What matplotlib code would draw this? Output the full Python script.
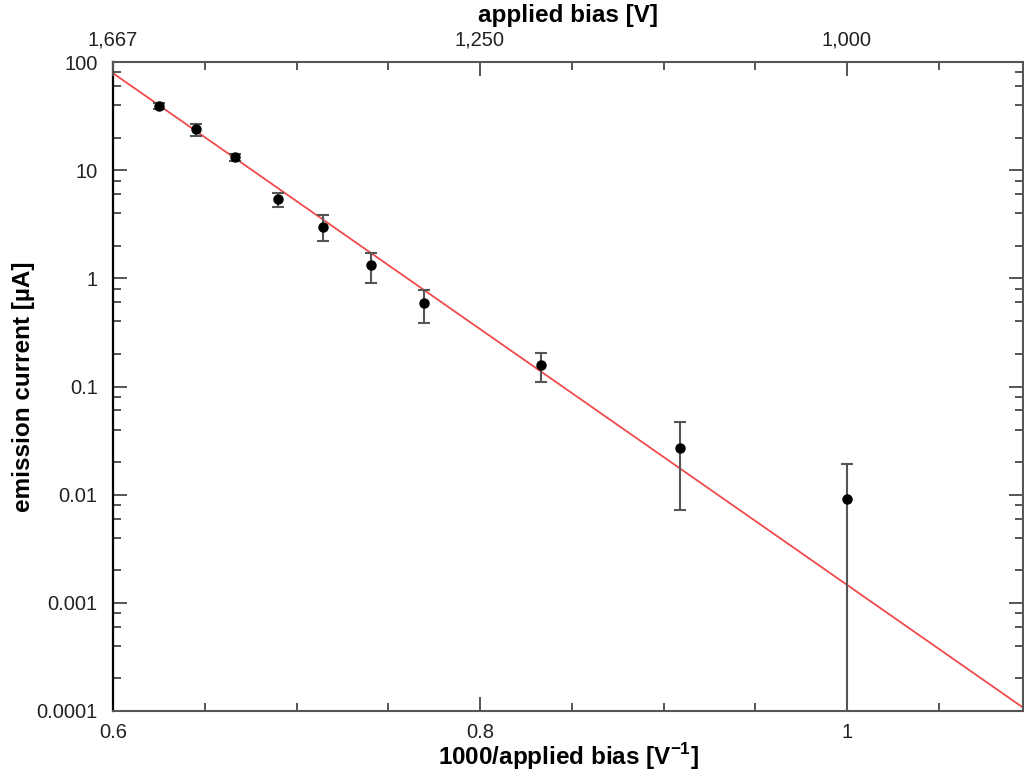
import numpy as np
import matplotlib
matplotlib.use('Agg')
import matplotlib.pyplot as plt
from matplotlib.ticker import FixedLocator, LogLocator, NullFormatter, FixedFormatter

plt.rcParams['font.family'] = ['Liberation Sans', 'DejaVu Sans']

# measured emission current vs applied bias
bias = np.array([1600, 1550, 1500, 1450, 1400, 1350, 1300, 1200, 1100, 1000])
current = np.array([39.2, 24.2, 13.2, 5.38, 3.01, 1.33, 0.589, 0.158, 0.0272, 0.00914])
current_lo = np.array([36.6, 20.8, 12.1, 4.54, 2.22, 0.912, 0.390, 0.109, 0.00724, 0.00005])
current_hi = np.array([41.5, 26.7, 14.1, 6.19, 3.83, 1.71, 0.782, 0.206, 0.0474, 0.0191])

# Fowler-Nordheim style fit, end points
fit_x = np.array([0.6, 1.1])
fit_y = np.array([78.8, 9.63e-5])

bottom_ticks = [0.6, 0.8, 1.0]
bottom_ticklabels = ['0.6', '0.8', '1']
top_ticklabels = ['1,667', '1,250', '1,000']   # 1000 / bottom_ticks

inv = 1000.0 / bias
yerr = np.vstack([current - current_lo, current_hi - current])

fig = plt.figure(figsize=(10.24, 7.8), dpi=100)
ax = fig.add_axes([113 / 1024, 1 - 711 / 780, 910 / 1024, 649 / 780])

ax.plot(fit_x, fit_y, color='#f24a4a', lw=1.3, zorder=2)
ax.errorbar(inv, current, yerr=yerr, fmt='o', color='black', ms=6.5,
            ecolor='#555555', elinewidth=1.5, capsize=4.5, capthick=1.5, zorder=3)

ax.set_yscale('log')
ax.set_xlim(0.6, 0.6 + 910 / 1835)
ax.set_ylim(1e-4, 100)

ax.yaxis.set_major_locator(FixedLocator([1e-4, 1e-3, 1e-2, 1e-1, 1, 10, 100]))
ax.yaxis.set_major_formatter(FixedFormatter(['0.0001', '0.001', '0.01', '0.1', '1', '10', '100']))
ax.yaxis.set_minor_locator(LogLocator(base=10, subs=(2, 4, 6, 8), numticks=10))
ax.yaxis.set_minor_formatter(NullFormatter())

ax.xaxis.set_major_locator(FixedLocator(bottom_ticks))
ax.xaxis.set_major_formatter(FixedFormatter(bottom_ticklabels))
ax.xaxis.set_minor_locator(FixedLocator(np.arange(0.6, 1.1, 0.05)))

tick_col = '#555555'
text_col = '#222222'
ax.tick_params(which='both', direction='in', color=tick_col, width=1.4,
               labelsize=14.5, labelcolor=text_col, right=True)
ax.tick_params(which='major', length=10)
ax.tick_params(which='minor', length=6)
ax.tick_params(axis='y', pad=11)
ax.tick_params(axis='x', pad=9)

for side in ['top', 'right', 'bottom']:
    ax.spines[side].set_color(tick_col)
    ax.spines[side].set_linewidth(1.5)
ax.spines['left'].set_color('black')
ax.spines['left'].set_linewidth(1.6)

ax.set_xlabel('1000/applied bias [V$^{\\mathregular{-1}}$]', fontsize=17.5,
              fontweight='bold', color='black', va='top')
ax.xaxis.set_label_coords(0.5, -0.046)
ax.set_ylabel('emission current [µA]', fontsize=17.5, fontweight='bold', color='black')
ax.yaxis.set_label_coords(-0.086, 0.5)

# top axis: the applied bias itself
top = ax.twiny()
top.set_xlim(ax.get_xlim())
top.xaxis.set_major_locator(FixedLocator(bottom_ticks))
top.xaxis.set_major_formatter(FixedFormatter(top_ticklabels))
top.xaxis.set_minor_locator(FixedLocator(np.arange(0.6, 1.1, 0.05)))
top.tick_params(which='both', direction='in', color=tick_col, width=1.4,
                labelsize=14.5, labelcolor=text_col, pad=9)
top.tick_params(which='major', length=10)
top.tick_params(which='minor', length=6)
for s in top.spines.values():
    s.set_visible(False)
top.set_xlabel('applied bias [V]', fontsize=17.5, fontweight='bold', color='black')
top.xaxis.set_label_coords(0.5, 1.062)

fig.savefig('out.png', dpi=100)
